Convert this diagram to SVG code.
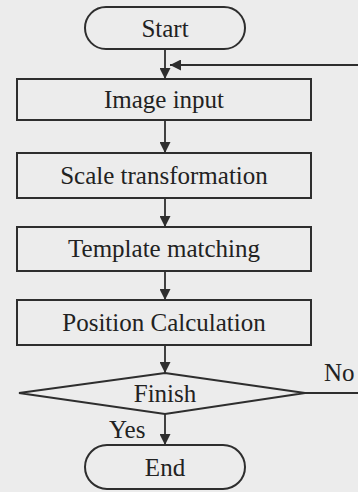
<svg xmlns="http://www.w3.org/2000/svg" width="358" height="492" viewBox="0 0 358 492">
<style>
.shape{fill:none;stroke:#2e2e2e;stroke-width:2}
.line{fill:none;stroke:#2e2e2e;stroke-width:1.8}
.lbl{font-family:"Liberation Serif","Times New Roman",serif;font-size:25px;fill:#222;text-anchor:middle}
.side{font-family:"Liberation Serif","Times New Roman",serif;font-size:25px;fill:#222}
</style>
<defs>
<marker id="arr" viewBox="0 0 10 10" refX="10" refY="5" markerWidth="11" markerHeight="11" markerUnits="userSpaceOnUse" orient="auto">
<path d="M0,0 L10,5 L0,10 Z" fill="#2e2e2e"/>
</marker>
</defs>
<rect x="0" y="0" width="358" height="492" fill="#ececec"/>
<g id="connectors">
<path class="line" d="M165,49 V79" marker-end="url(#arr)"/>
<path class="line" d="M358,65 H170" marker-end="url(#arr)"/>
<path class="line" d="M165,120 V153" marker-end="url(#arr)"/>
<path class="line" d="M165,198 V227" marker-end="url(#arr)"/>
<path class="line" d="M165,271 V300" marker-end="url(#arr)"/>
<path class="line" d="M165,345 V373" marker-end="url(#arr)"/>
<path class="line" d="M165,414 V445" marker-end="url(#arr)"/>
<path class="line" d="M305,393 H358"/>
<text class="side" x="324" y="381">No</text>
<text class="side" x="109" y="438">Yes</text>
</g>
<g id="start">
<rect class="shape" x="85" y="7" width="160" height="42" rx="21"/>
<text class="lbl" x="165" y="37">Start</text>
</g>
<g id="image-input">
<rect class="shape" x="17" y="79" width="294" height="41"/>
<text class="lbl" x="164" y="108">Image input</text>
</g>
<g id="scale">
<rect class="shape" x="17" y="153" width="294" height="45"/>
<text class="lbl" x="164" y="184">Scale transformation</text>
</g>
<g id="template">
<rect class="shape" x="17" y="227" width="294" height="44"/>
<text class="lbl" x="164" y="257">Template matching</text>
</g>
<g id="position">
<rect class="shape" x="17" y="300" width="294" height="45"/>
<text class="lbl" x="164" y="331">Position Calculation</text>
</g>
<g id="finish">
<path class="shape" d="M165,373 L305,393 L165,414 L19,393 Z"/>
<text class="lbl" x="165" y="402">Finish</text>
</g>
<g id="end">
<rect class="shape" x="85" y="445" width="160" height="44" rx="22"/>
<text class="lbl" x="165" y="476">End</text>
</g>
</svg>
